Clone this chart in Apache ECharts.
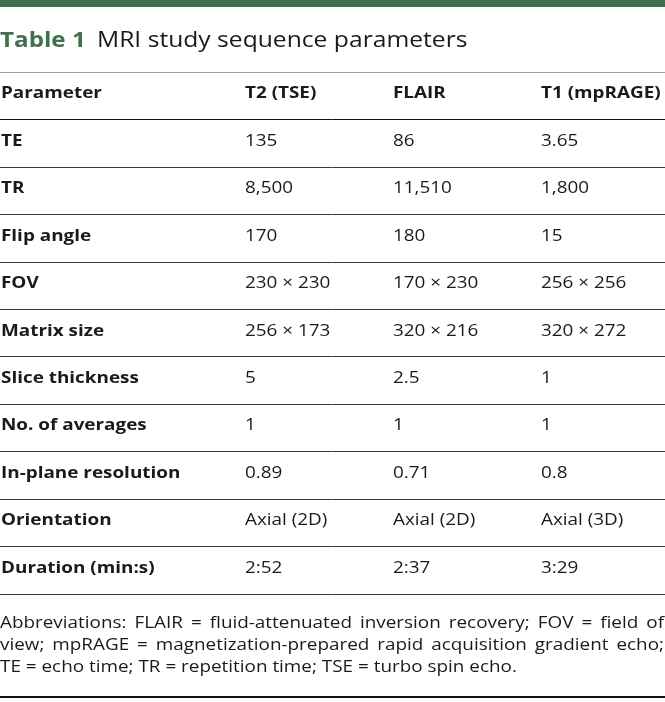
<!DOCTYPE html>
<html><head><meta charset="utf-8">
<script src="https://cdn.jsdelivr.net/npm/echarts@6/dist/echarts.min.js"></script>
<style>html,body{margin:0;padding:0;background:#fff}#c{width:665px;height:702px}</style>
</head><body><div id="c"></div>
<script>
const titleLabel = 'Table 1';
const titleText = 'MRI study sequence parameters';
const columns = ['Parameter', 'T2 (TSE)', 'FLAIR', 'T1 (mpRAGE)'];
const parameters = ['TE', 'TR', 'Flip angle', 'FOV', 'Matrix size', 'Slice thickness', 'No. of averages', 'In-plane resolution', 'Orientation', 'Duration (min:s)'];
const t2Values = ['135', '8,500', '170', '230 × 230', '256 × 173', '5', '1', '0.89', 'Axial (2D)', '2:52'];
const flairValues = ['86', '11,510', '180', '170 × 230', '320 × 216', '2.5', '1', '0.71', 'Axial (2D)', '2:37'];
const t1Values = ['3.65', '1,800', '15', '256 × 256', '320 × 272', '1', '1', '0.8', 'Axial (3D)', '3:29'];
const footnoteLines = [
  'Abbreviations: FLAIR = fluid-attenuated inversion recovery; FOV = field of',
  'view; mpRAGE = magnetization-prepared rapid acquisition gradient echo;',
  'TE = echo time; TR = repetition time; TSE = turbo spin echo.'
];

// layout
const W = 665;
const FONT = '"Open Sans", "Noto Sans", sans-serif';
const FS = 16;
const SX = 1.18;
const colLeft = [1, 245, 393, 541];
const textDy = -2;
const ink = '#1a1a1a';

const rowLabels = ['header'].concat(parameters);
const cells = [];
columns.forEach((t, c) => cells.push({ value: [c, 0], text: t, bold: true }));
parameters.forEach((p, i) => {
  const r = i + 1;
  cells.push({ value: [0, r], text: p, bold: true });
  cells.push({ value: [1, r], text: t2Values[i], bold: false });
  cells.push({ value: [2, r], text: flairValues[i], bold: false });
  cells.push({ value: [3, r], text: t1Values[i], bold: false });
});

const splitColors = ['#8ea596', '#111111'];
for (let i = 0; i < parameters.length; i++) splitColors.push('#3a3a3a');

// footnote justification
const cv = document.createElement('canvas').getContext('2d');
const footFont = FS + 'px ' + FONT;
cv.font = footFont;
const graphics = [];
graphics.push({ type: 'rect', shape: { x: 0, y: 0, width: W, height: 7 }, style: { fill: '#41704f' } });
graphics.push({ type: 'text', x: 0, y: 41, scaleX: 1.1, style: { text: titleLabel, font: 'bold 22px ' + FONT, fill: '#41704f', verticalAlign: 'middle' } });
graphics.push({ type: 'text', x: 97, y: 41, scaleX: 1.12, style: { text: titleText, font: '22px ' + FONT, fill: ink, verticalAlign: 'middle' } });
const footY = [623, 645, 667];
footnoteLines.forEach((line, li) => {
  const justify = li < footnoteLines.length - 1;
  if (!justify) {
    graphics.push({ type: 'text', x: 0, y: footY[li], scaleX: SX, style: { text: line, font: footFont, fill: ink, verticalAlign: 'middle' } });
    return;
  }
  const words = line.split(' ');
  const widths = words.map(w => cv.measureText(w).width * SX);
  const total = widths.reduce((a, b) => a + b, 0);
  const gap = (W - 1 - total) / (words.length - 1);
  let x = 0;
  words.forEach((w, i) => {
    graphics.push({ type: 'text', x: x, y: footY[li], scaleX: SX, style: { text: w, font: footFont, fill: ink, verticalAlign: 'middle' } });
    x += widths[i] + gap;
  });
});
graphics.push({ type: 'line', shape: { x1: 0, y1: 697, x2: W, y2: 697 }, style: { stroke: '#111', lineWidth: 2 } });

const chart = echarts.init(document.getElementById('c'), null, { renderer: 'canvas' });
chart.setOption({
  animation: false,
  grid: { left: 0, right: 0, top: 72, bottom: 108 },
  xAxis: { type: 'category', data: columns, show: true, axisLine: { show: false }, axisTick: { show: false }, axisLabel: { show: false }, splitLine: { show: false } },
  yAxis: {
    type: 'category', data: rowLabels, inverse: true,
    axisLine: { show: false }, axisTick: { show: false }, axisLabel: { show: false },
    splitLine: { show: true, lineStyle: { color: splitColors, width: 1 } }
  },
  series: [{
    type: 'custom',
    data: cells.map(c => c.value),
    renderItem: (params, api) => {
      const cell = cells[params.dataIndex];
      const y = api.coord([0, api.value(1)])[1];
      return {
        type: 'text', x: colLeft[api.value(0)], y: y + textDy, scaleX: SX,
        style: { text: cell.text, font: (cell.bold ? 'bold ' : '') + FS + 'px ' + FONT, fill: ink, verticalAlign: 'middle', align: 'left' }
      };
    }
  }],
  graphic: graphics
});
</script></body></html>
